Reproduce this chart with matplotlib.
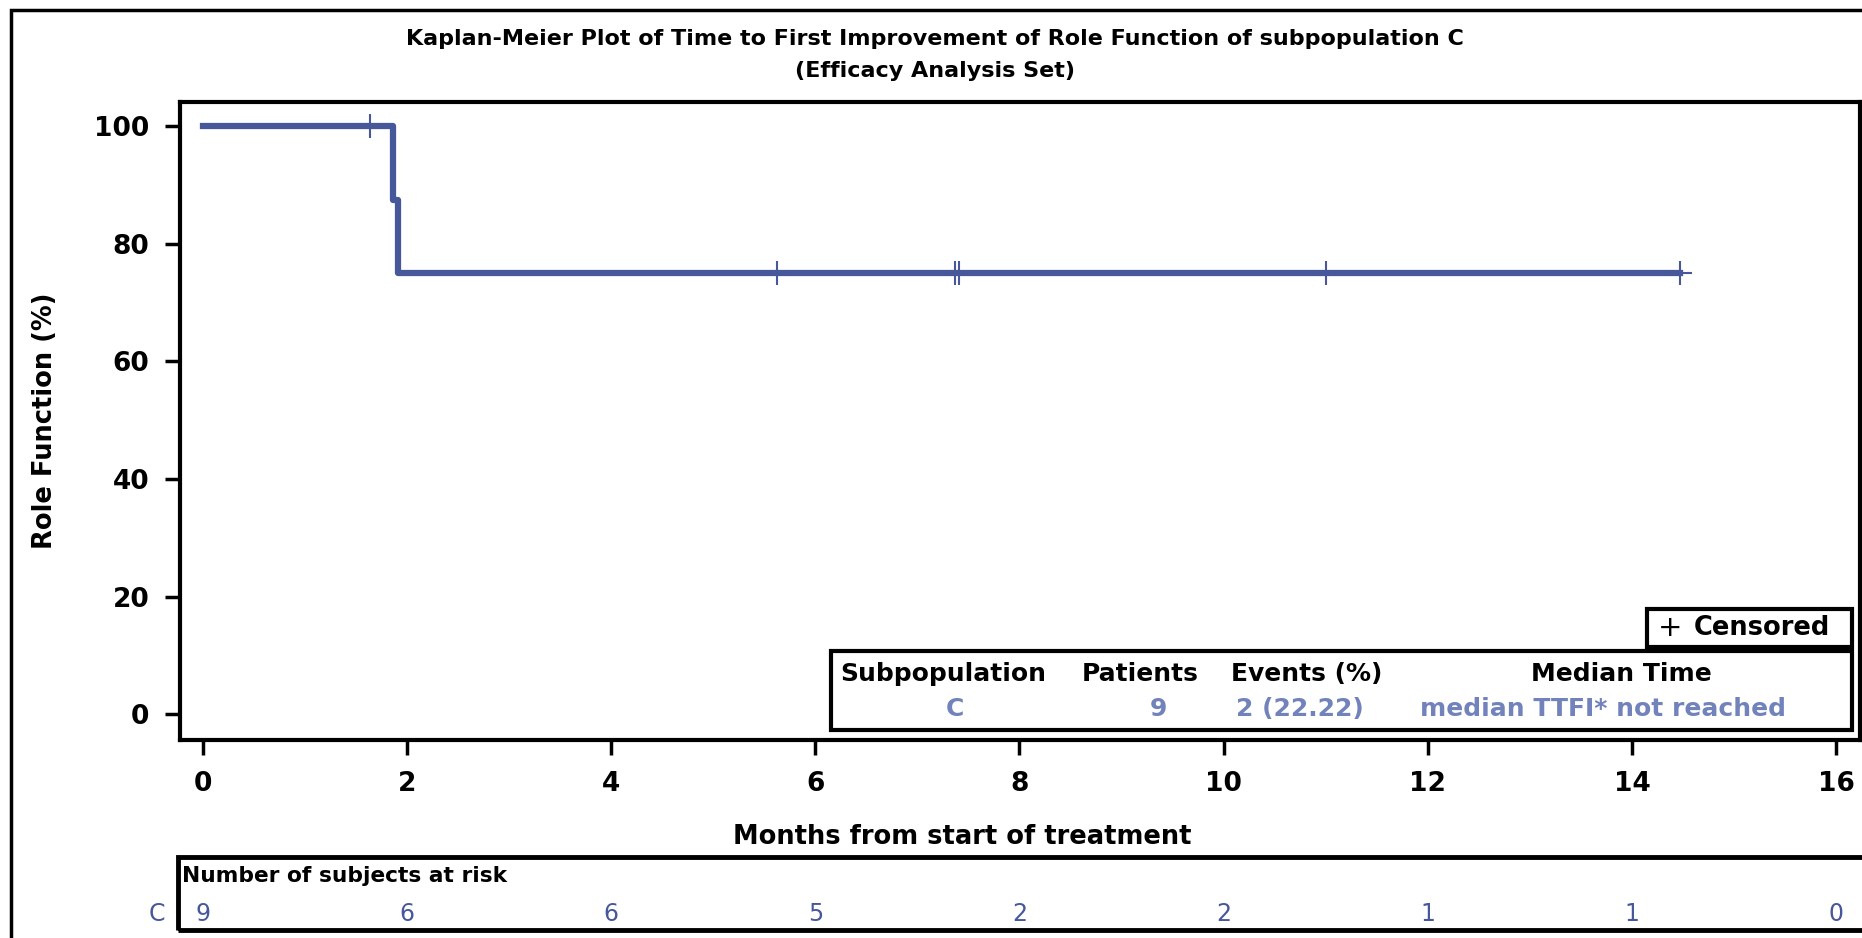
import matplotlib
matplotlib.use("Agg")
import matplotlib.pyplot as plt
from matplotlib.patches import Rectangle

# donnees de la courbe (mois, % sans amelioration)
times = [0, 1.86, 1.91, 14.47]
surv = [100, 87.5, 75, 75]

# patients censures
cens_t = [1.64, 5.62, 7.37, 7.41, 11.0, 14.47]
cens_s = [100, 75, 75, 75, 75, 75]

# nombre de sujets a risque
risk_t = [0, 2, 4, 6, 8, 10, 12, 14, 16]
risk_n = [9, 6, 6, 5, 2, 2, 1, 1, 0]

# tableau resume
tab_head = ["Subpopulation", "Patients", "Events (%)", "Median Time"]
tab_vals = ["C", "9", "2 (22.22)", "median TTFI* not reached"]

W, H = 1862, 938
line_col = "#46579a"
val_col = "#7282bb"

plt.rcParams["font.family"] = "DejaVu Sans"

fig = plt.figure(figsize=(W / 100, H / 100), dpi=100)


def fx(px):
    return px / W


def fy(py):
    return 1 - py / H


# cadre exterieur
fig.add_artist(Rectangle((fx(11), fy(H + 20)), fx(W + 20), fy(10) - fy(H + 20),
                         transform=fig.transFigure, fill=False, lw=2.5, ec="black"))

ax = fig.add_axes([fx(180), fy(740), fx(1860) - fx(180), fy(102) - fy(740)])
ax.plot(times, surv, drawstyle="steps-post", color=line_col, lw=4.5)
ax.plot(cens_t, cens_s, ls="none", marker="+", ms=17, mew=1.5, color=line_col)

ax.set_xlim(-0.225, 16.235)
ax.set_ylim(-4.37, 104.1)
ax.set_xticks(risk_t)
ax.set_yticks([0, 20, 40, 60, 80, 100])
ax.tick_params(length=11, width=2.5, labelsize=19, pad=11)
for lab in ax.get_xticklabels() + ax.get_yticklabels():
    lab.set_fontweight("bold")
for s in ax.spines.values():
    s.set_linewidth(3)
ax.set_ylabel("Role Function (%)", fontsize=18.5, fontweight="bold", labelpad=26)

fig.text(fx(935), fy(39), "Kaplan-Meier Plot of Time to First Improvement of Role Function of subpopulation C",
         ha="center", va="center", fontsize=16, fontweight="bold")
fig.text(fx(935), fy(71), "(Efficacy Analysis Set)", ha="center", va="center",
         fontsize=16, fontweight="bold")
fig.text(fx(962), fy(837), "Months from start of treatment", ha="center", va="center",
         fontsize=18.5, fontweight="bold")

# legende censure
fig.add_artist(Rectangle((fx(1647), fy(647)), fx(1852) - fx(1647), fy(609) - fy(647),
                         transform=fig.transFigure, fill=True, fc="white", lw=3, ec="black"))
fig.text(fx(1670), fy(628), "+", ha="center", va="center", fontsize=21, color="black")
fig.text(fx(1694), fy(628), "Censored", ha="left", va="center", fontsize=18.5, fontweight="bold")

# tableau
fig.add_artist(Rectangle((fx(831), fy(730)), fx(1852) - fx(831), fy(651) - fy(730),
                         transform=fig.transFigure, fill=True, fc="white", lw=3, ec="black"))
head_x = [943, 1140, 1307, 1621]
val_x = [955, 1158, 1300, 1603]
for hx, vx, h, v in zip(head_x, val_x, tab_head, tab_vals):
    fig.text(fx(hx), fy(674), h, ha="center", va="center", fontsize=18, fontweight="bold")
    fig.text(fx(vx), fy(709), v, ha="center", va="center", fontsize=18, fontweight="bold",
             color=val_col)

# sujets a risque
fig.add_artist(Rectangle((fx(178), fy(930)), fx(1870) - fx(178), fy(857) - fy(930),
                         transform=fig.transFigure, fill=False, lw=3.5, ec="black"))
fig.text(fx(182), fy(876), "Number of subjects at risk", ha="left", va="center",
         fontsize=15.7, fontweight="bold")
fig.text(fx(157), fy(914), "C", ha="center", va="center", fontsize=17, color=line_col)
for t, n in zip(risk_t, risk_n):
    ax.annotate(str(n), xy=(t, 0), xycoords=("data", "figure fraction"),
                xytext=(0, (1 - 914 / H) * H * 0.72), textcoords="offset points",
                ha="center", va="center", fontsize=17, color=line_col)

fig.savefig("out.png", dpi=100)
